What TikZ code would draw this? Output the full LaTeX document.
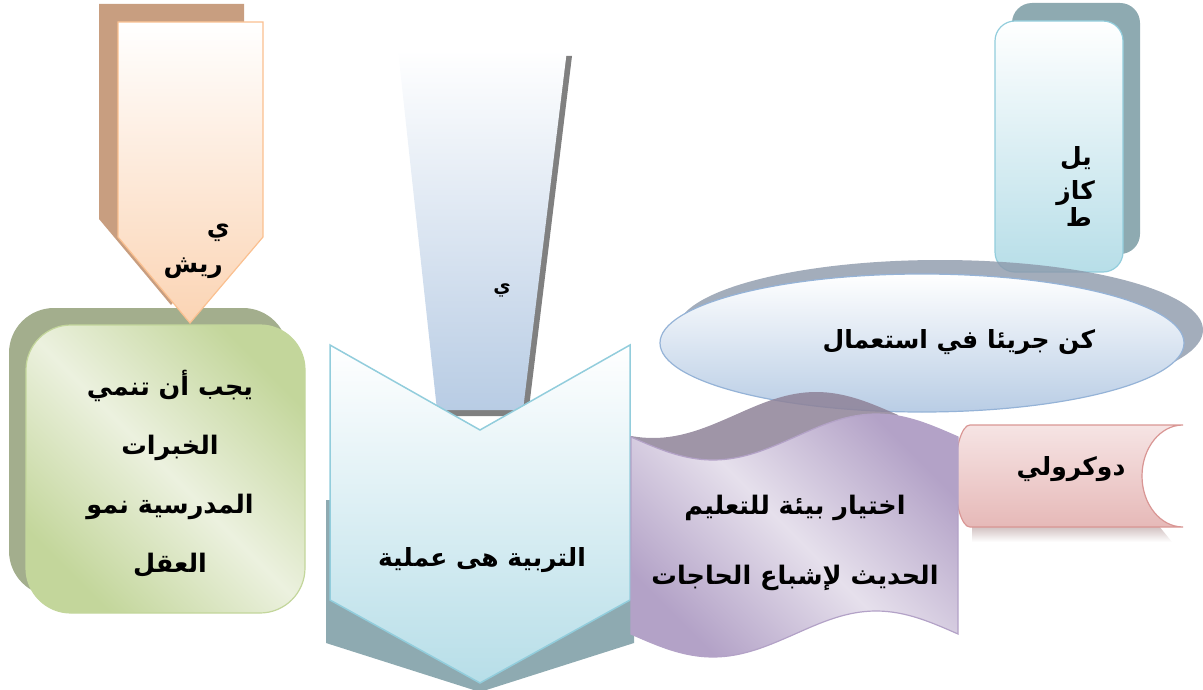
\documentclass[tikz,border=0pt]{standalone}
\usepackage{xcolor}
\usepackage{fontspec}
\usepackage{tikz}
\usetikzlibrary{positioning}
\newfontfamily\arabicfont[Script=Arabic]{DejaVu Sans}
\TeXXeTstate=1

\definecolor{peachfill}{RGB}{251,212,180}
\definecolor{peachline}{RGB}{250,192,144}
\definecolor{peachdark}{RGB}{200,158,128}
\definecolor{greenfill}{RGB}{195,214,155}
\definecolor{greenlight}{RGB}{236,241,223}
\definecolor{greendark}{RGB}{163,174,141}
\definecolor{skyfill}{RGB}{184,204,228}
\definecolor{aquafill}{RGB}{183,222,232}
\definecolor{aqualine}{RGB}{146,205,220}
\definecolor{aquadark}{RGB}{142,170,177}
\definecolor{ovalfill}{RGB}{185,205,229}
\definecolor{ovalline}{RGB}{149,179,215}
\definecolor{ovaldark}{RGB}{140,152,170}
\definecolor{lilacfill}{RGB}{179,162,199}
\definecolor{lilaclight}{RGB}{230,224,236}
\definecolor{lilacdark}{RGB}{142,130,152}
\definecolor{rosefill}{RGB}{230,185,184}
\definecolor{roselight}{RGB}{246,228,228}
\definecolor{roseline}{RGB}{217,150,148}
\definecolor{rosedark}{RGB}{175,145,145}

\pgfdeclarehorizontalshading{greendiag}{100bp}{color(0bp)=(greenfill); color(25bp)=(greenfill); color(50bp)=(greenlight); color(75bp)=(greenfill); color(100bp)=(greenfill)}
\pgfdeclarehorizontalshading{lilacdiag}{100bp}{color(0bp)=(lilacfill); color(25bp)=(lilacfill); color(50bp)=(lilaclight); color(75bp)=(lilacfill); color(100bp)=(lilacfill)}

\newcommand{\artext}[1]{\beginR #1\endR}

\begin{document}
\begin{tikzpicture}[x=1pt,y=-1pt]

        % Define block styles
        \tikzstyle{backdrop} = [draw=none]
        \tikzstyle{artxt} = [font=\arabicfont\bfseries\fontsize{25}{30}\selectfont, align=center, inner sep=0pt]
        \tikzstyle{downarrow} = [draw=peachline, line width=1.2pt, top color=white, bottom color=peachfill]
        \tikzstyle{greenbox} = [draw=greenfill, line width=1.2pt, shade, shading=greendiag, shading angle=45, rounded corners=45pt]
        \tikzstyle{wedge} = [top color=white, bottom color=skyfill]
        \tikzstyle{chevron} = [draw=aqualine, line width=1.5pt, top color=white, bottom color=aquafill]
        \tikzstyle{tallbox} = [draw=aqualine, line width=1.2pt, top color=white, bottom color=aquafill, rounded corners=20pt]
        \tikzstyle{oval} = [draw=ovalline, line width=1.2pt, top color=white, bottom color=ovalfill]
        \tikzstyle{tape} = [draw=lilacfill, line width=1.2pt, shade, shading=lilacdiag, shading angle=45]
        \tikzstyle{drum} = [draw=roseline, line width=1.2pt, top color=roselight, bottom color=rosefill]

        \useasboundingbox (0,0) rectangle (1203,690);

        % Rounded box and the arrow above it
        \fill[backdrop, greendark, rounded corners=45pt] (9,308) rectangle (288,596);
        \path[greenbox] (26,325) rectangle (305,613);
        \fill[backdrop, peachdark] (99,4) -- (244,4) -- (244,219) -- (171,305) -- (99,219) -- cycle;
        \path[downarrow] (118,22) -- (263,22) -- (263,237) -- (190,323) -- (118,237) -- cycle;

        % Wedge
        \fill[backdrop, gray] (403,56) -- (572,56) -- (528,416) -- (442,416) -- cycle;
        \path[wedge] (398,50) -- (567,50) -- (523,410) -- (437,410) -- cycle;

        % Tall box, oval
        \fill[backdrop, aquadark, rounded corners=20pt] (1012,3) rectangle (1140,254);
        \path[tallbox] (995,21) rectangle (1123,272);
        \fill[backdrop, ovaldark, fill opacity=0.8] (940,330) ellipse [x radius=263, y radius=70];
        \path[oval] (922,343) ellipse [x radius=262, y radius=69];

        % Drum
        \path[backdrop, top color=rosedark, bottom color=white] (972,515) -- (1150,515) -- (1172,542) -- (972,542) -- cycle;
        \path[drum] (970,425) -- (1183,425)
          .. controls (1160.4,425) and (1142,447.8) .. (1142,476)
          .. controls (1142,504.2) and (1160.4,527) .. (1183,527)
          -- (970,527)
          .. controls (961.7,527) and (955,504.2) .. (955,476)
          .. controls (955,447.8) and (961.7,425) .. (970,425) -- cycle;

        % Tape and chevron
        \fill[backdrop, lilacdark, fill opacity=0.85] (571,415) sin (653,438) cos (735,415) sin (816,392) cos (898,415)
          -- (898,612) sin (816,589) cos (735,612) sin (653,635) cos (571,612) -- cycle;
        \fill[backdrop, aquadark] (326,500) -- (326,643) -- (480,692) -- (634,643) -- (634,500) -- cycle;
        \path[chevron] (330,345) -- (480,430) -- (630,345) -- (630,600) -- (480,683) -- (330,600) -- cycle;
        \path[tape] (631,437) sin (713,460) cos (795,437) sin (876,414) cos (958,437)
          -- (958,634) sin (876,611) cos (795,634) sin (713,657) cos (631,634) -- cycle;

        % Labels
        \node[artxt, anchor=base east] (arrowya) at (230,236) {\artext{ي}};
        \node[artxt, anchor=base east] (arrowrish) at (223,272) {\artext{ريش}};
        \node[artxt, font=\arabicfont\bfseries\fontsize{25.5}{59}\selectfont] (growth) at (170,474)
          {\artext{يجب أن تنمي}\\\artext{الخبرات}\\\artext{المدرسية نمو}\\\artext{العقل}};
        \node[artxt, font=\arabicfont\bfseries\fontsize{19}{24}\selectfont] (wedgeya) at (502,290) {\artext{ي}};
        \node[artxt] (process) at (482,560) {\artext{التربية هى عملية}};
        \node[artxt, anchor=base east] (tallyl) at (1092,166) {\artext{يل}};
        \node[artxt, anchor=base east] (tallkaz) at (1095,200) {\artext{كاز}};
        \node[artxt, anchor=base east] (tallta) at (1092,226) {\artext{ط}};
        \node[artxt] (bold) at (959,342) {\artext{كن جريئا في استعمال}};
        \node[artxt, font=\arabicfont\bfseries\fontsize{25.5}{70}\selectfont] (choice) at (795,543)
          {\artext{اختيار بيئة للتعليم}\\\artext{الحديث لإشباع الحاجات}};
        \node[artxt] (decroly) at (1071,469) {\artext{دوكرولي}};

\end{tikzpicture}
\end{document}
